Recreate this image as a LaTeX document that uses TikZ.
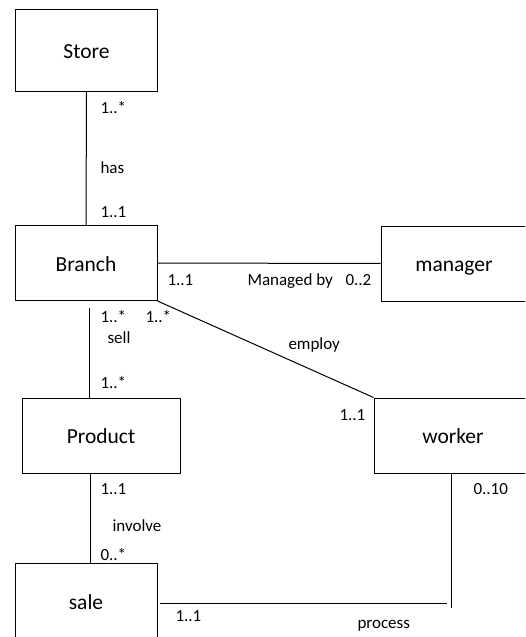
\documentclass[tikz,border=0pt]{standalone}
\usepackage{fontspec}
\setmainfont{Carlito}
\usepackage{tikz}
\tikzstyle{entity}=[draw,rectangle,minimum width=142pt,minimum height=75pt,inner sep=0pt,text height=16pt,text depth=0pt,font=\fontsize{21.5}{24}\selectfont]
\tikzstyle{mult}=[inner sep=0pt,anchor=base west,font=\fontsize{17}{20}\selectfont]

\begin{document}
\begin{tikzpicture}[x=1pt,y=-1pt,line width=1pt]
          \useasboundingbox (0,0) rectangle (525,637);
          \clip (0,0) rectangle (525,637);
          \node[entity,minimum height=82pt] (store) at (86.5,50) {Store};
          \node[entity] (branch) at (86,263) {Branch};
          \node[entity,minimum width=146pt] (manager) at (454,263.5) {manager};
          \node[entity,minimum width=158pt] (product) at (101,435.5) {Product};
          \node[entity,minimum width=158pt] (worker) at (453,435.5) {worker};
          \node[entity,minimum height=76pt] (sale) at (86,601) {sale};
          \coordinate (selltop) at (89,308);
          \coordinate (invx) at (90,0);
          \coordinate (procleft) at (447,603);
          \coordinate (procend) at (451,608);
          \path[draw]
            (store) edge (branch)
            (branch) edge (manager)
            (branch.south east) edge (worker.north west)
            (selltop) edge (selltop |- product.north)
            (product.south -| invx) edge (sale.north -| invx)
            (sale.east |- procleft) edge[shorten <=2pt] (procleft)
            (worker.south -| procend) edge (procend);
          \node[mult] (m1) at (100,113) {1..*};
          \node[mult] (has) at (100,173) {has};
          \node[mult] (m2) at (100,217) {1..1};
          \node[mult] (m3) at (167,285) {1..1};
          \node[mult] (managed) at (247,285) {Managed by};
          \node[mult] (m4) at (345,285) {0..2};
          \node[mult] (m5) at (100,322) {1..*};
          \node[mult] (m6) at (145,322) {1..*};
          \node[mult] (sell) at (107,343) {sell};
          \node[mult] (employ) at (288,349) {employ};
          \node[mult] (m7) at (100,388) {1..*};
          \node[mult] (m8) at (339,420) {1..1};
          \node[mult] (m9) at (100,494) {1..1};
          \node[mult] (involve) at (112,531) {involve};
          \node[mult] (m10) at (100,560) {0..*};
          \node[mult] (m11) at (473,494) {0..10};
          \node[mult] (m12) at (175,621) {1..1};
          \node[mult] (process) at (357,628) {process};
        \end{tikzpicture}
\end{document}
